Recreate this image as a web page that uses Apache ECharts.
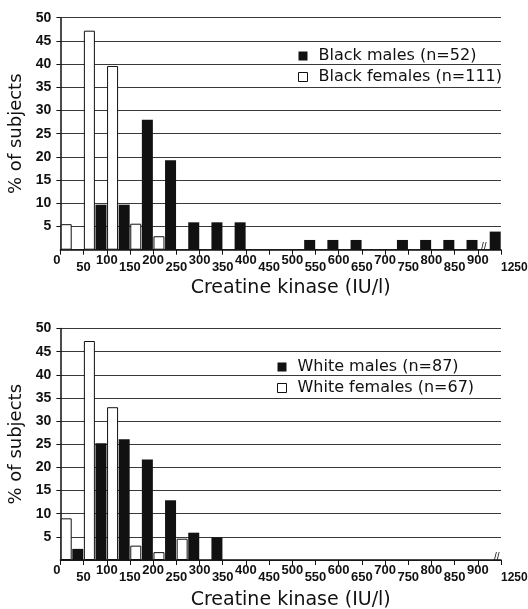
<!DOCTYPE html>
<html>
<head>
<meta charset="utf-8">
<script src="https://cdn.jsdelivr.net/npm/echarts@6/dist/echarts.min.js"></script>
<style>
  html, body { margin: 0; padding: 0; background: #fff; }
  #main { width: 528px; height: 609px; }
</style>
</head>
<body>
<div id="main"></div>
<script>
// bin edges (IU/l); last bin is 900-1250 (axis break)
const xTickLabels = ['0','50','100','150','200','250','300','350','400','450','500',
                     '550','600','650','700','750','800','850','900','1250'];
const yTicks = [0, 5, 10, 15, 20, 25, 30, 35, 40, 45, 50];

// % of subjects per bin (19 bins)
const blackMales   = [0, 9.7, 9.7, 28.0, 19.3, 5.9, 5.9, 5.9, 0, 0, 2.1, 2.1, 2.1, 0, 2.1, 2.1, 2.1, 2.1, 3.9];
const blackFemales = [5.5, 47.2, 39.6, 5.6, 2.9, 0, 0, 0, 0, 0, 0, 0, 0, 0, 0, 0, 0, 0, 0];
const whiteMales   = [2.4, 25.2, 26.1, 21.7, 12.9, 5.9, 4.9, 0, 0, 0, 0, 0, 0, 0, 0, 0, 0, 0, 0];
const whiteFemales = [9.0, 47.3, 33.0, 3.1, 1.7, 4.6, 0, 0, 0, 0, 0, 0, 0, 0, 0, 0, 0, 0, 0];

const legendTop    = ['Black males (n=52)', 'Black females (n=111)'];
const legendBottom = ['White males (n=87)', 'White females (n=67)'];

const INK = '#111';
const FONT = 'DejaVu Sans';

// female bars sit in the left half of a bin, male bars in the right half
function toPoints(vals, offset) {
  const out = [];
  vals.forEach((v, i) => { if (v > 0) out.push([i + offset, v]); });
  return out;
}

function xAxisFor(gridIndex, margin, drop) {
  const lab = { fontFamily: 'Liberation Sans', fontWeight: 'bold', fontSize: 13, lineHeight: 13, color: INK };
  const last = xTickLabels.length - 1;
  return {
    type: 'value', gridIndex: gridIndex,
    min: 0, max: last, interval: 1,
    name: 'Creatine kinase (IU/l)', nameLocation: 'middle',
    nameGap: gridIndex === 0 ? 29 : 31,
    nameTextStyle: { fontFamily: FONT, fontSize: 19, color: INK, padding: [0, 0, 0, 20] },
    axisLine: { lineStyle: { color: INK, width: 1.5 } },
    axisTick: { length: 5, lineStyle: { color: INK } },
    splitLine: { show: false },
    axisLabel: {
      margin: margin,
      showMinLabel: true, showMaxLabel: true, hideOverlap: false,
      alignMinLabel: 'right', alignMaxLabel: 'left',
      formatter: function (v) {
        const i = Math.round(v);
        if (i === last) return '{e|' + xTickLabels[i] + '}';
        return (i % 2 ? '{d|' : '{u|') + xTickLabels[i] + '}';
      },
      rich: {
        u: Object.assign({}, lab),
        d: Object.assign({ padding: [drop, 0, 0, 0] }, lab),
        e: Object.assign({}, lab, { fontSize: 12, padding: [drop, 0, 0, 0] })
      }
    }
  };
}

function yAxisFor(gridIndex) {
  return {
    type: 'value', gridIndex: gridIndex,
    min: yTicks[0], max: yTicks[yTicks.length - 1], interval: 5,
    name: '% of subjects', nameLocation: 'middle', nameGap: 33,
    nameTextStyle: { fontFamily: FONT, fontSize: 18, color: INK },
    axisLine: { show: true, lineStyle: { color: INK, width: 1.5 } },
    axisTick: { show: true, length: 4, lineStyle: { color: INK } },
    axisLabel: {
      showMinLabel: false, margin: 9,
      fontFamily: 'Liberation Sans', fontWeight: 'bold', fontSize: 14, color: INK
    },
    splitLine: { show: true, lineStyle: { color: '#3a3a3a', width: 1 } }
  };
}

function barSeries(name, vals, offset, idx, female) {
  return {
    name: name, type: 'bar',
    xAxisIndex: idx, yAxisIndex: idx,
    barWidth: 11, barGap: '-100%',
    data: toPoints(vals, offset),
    itemStyle: female ? { color: '#fff', borderColor: INK, borderWidth: 1 } : { color: INK },
    emphasis: { disabled: true },
    animation: false
  };
}

function legendFor(names, left, top) {
  return {
    orient: 'vertical', left: left, top: top,
    icon: 'rect', itemWidth: 9, itemHeight: 9, itemGap: 3,
    selectedMode: false,
    textStyle: { fontFamily: FONT, fontSize: 16, lineHeight: 18, color: INK, padding: [0, 0, 0, 6] },
    data: [
      { name: names[0], itemStyle: { color: INK } },
      { name: names[1], itemStyle: { color: '#fff', borderColor: INK, borderWidth: 1 } }
    ]
  };
}

const chart = echarts.init(document.getElementById('main'));
chart.setOption({
  backgroundColor: '#fff',
  animation: false,
  grid: [
    { left: 60.4, right: 27, top: 17.7, height: 232, outerBoundsMode: 'none', containLabel: false },
    { left: 60.4, right: 27, top: 328.5, height: 231.5, outerBoundsMode: 'none', containLabel: false }
  ],
  xAxis: [xAxisFor(0, 4, 14), xAxisFor(1, 4, 14)],
  yAxis: [yAxisFor(0), yAxisFor(1)],
  legend: [legendFor(legendTop, 293, 42), legendFor(legendBottom, 272, 353)],
  series: [
    barSeries(legendTop[0], blackMales, 0.75, 0, false),
    barSeries(legendTop[1], blackFemales, 0.25, 0, true),
    barSeries(legendBottom[0], whiteMales, 0.75, 1, false),
    barSeries(legendBottom[1], whiteFemales, 0.25, 1, true)
  ],
  graphic: [
    { type: 'text', left: 481, top: 242, style: { text: '//', fontSize: 10, fill: INK } },
    { type: 'text', left: 494, top: 552, style: { text: '//', fontSize: 10, fill: INK } }
  ]
});
</script>
</body>
</html>
